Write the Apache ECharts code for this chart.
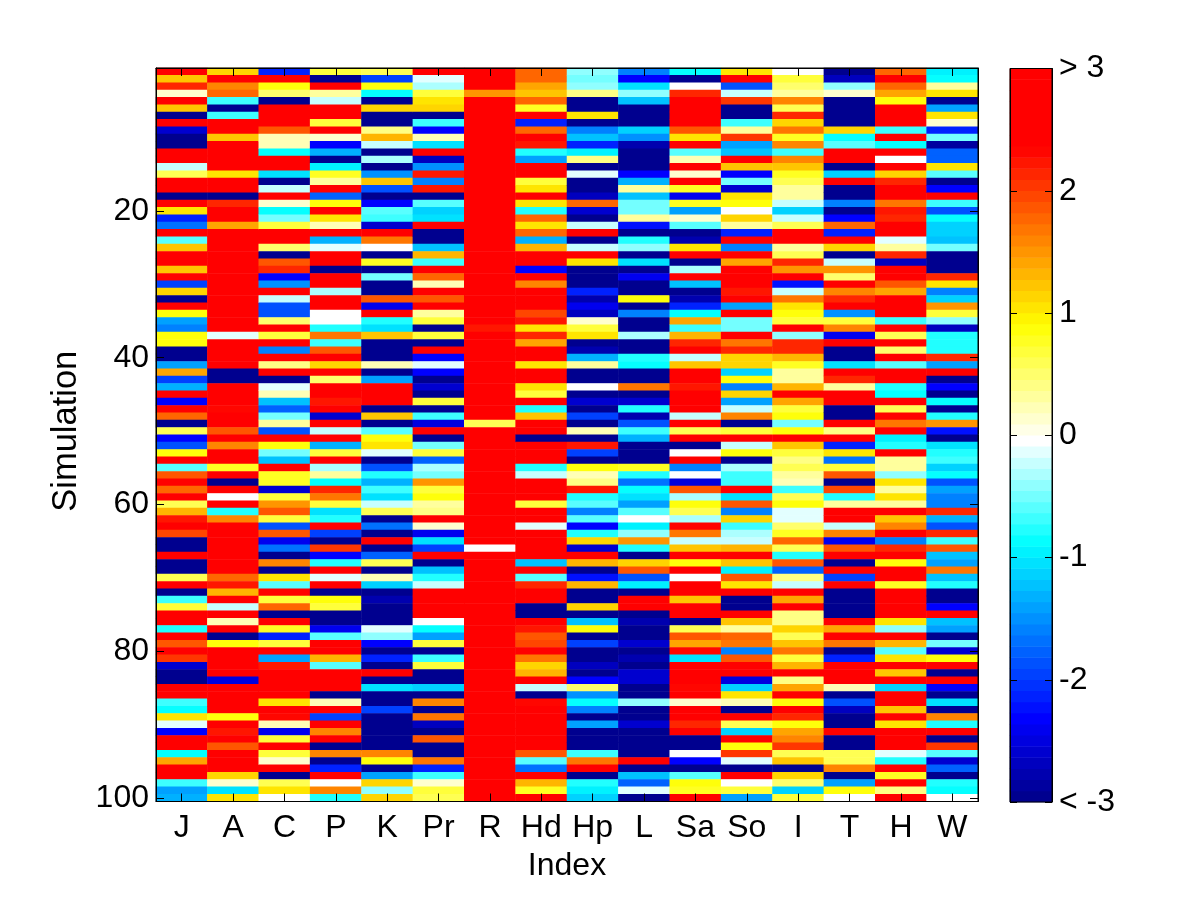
<!DOCTYPE html>
<html>
<head>
<meta charset="utf-8">
<style>html,body{margin:0;padding:0;background:#fff}#c{width:1200px;height:900px}</style>
<script src="https://cdn.jsdelivr.net/npm/echarts@6/dist/echarts.min.js"></script>
</head>
<body>
<div id="c"></div>
<script>
const indexLabels = ['J','A','C','P','K','Pr','R','Hd','Hp','L','Sa','So','I','T','H','W'];
const simTickValues = [20,40,60,80,100];
const barTickLabels = {'3':'> 3','2':'2','1':'1','0':'0','-1':'-1','-2':'-2','-3':'< -3'};

const J = [3,1.2,2.1,.15,3,1.2,-3,3,-2.6,-3,-3,3,3,-.2,.6,3,3,-3,3,1,-2.1,-1.7,3,-.6,1.2,
3,3,1.25,3,-2,1.1,-3,3,.85,-1.45,-1.6,.9,.9,-3,-3,-1.45,1.4,-2,-1.35,3,-2.35,3,1.8,-3,.55,
-2.35,-1.9,.85,3,-.55,1.9,3,1.75,3,.6,1.3,2.2,3,1.95,-3,-3,3,-3,-3,.6,3,-3,-.7,.7,3,
3,-.8,3,1.9,3,2,-2.55,-3,-3,3,3,-.7,-.9,1,-.15,-2.3,3,3,-.9,1.4,3,3,-.65,-1.45,-1.35];
const A = [1.15,3,1.6,1.8,-.7,-3,-.7,3,3,1.25,3,3,3,3,1,3,3,-3,2.1,3,3,1.4,3,3,3,
3,3,3,3,3,3,3,3,3,3,3,-.15,3,3,3,3,-3,-3,3,3,3,2.3,3,3,1.9,
3,1.6,3,3,.8,3,-3,3,-.04,3,-.8,1.55,3,3,3,3,3,3,3,1.75,2.2,1.35,3,-.25,3,
.2,3,-3,.85,3,3,3,3,-2.5,3,3,3,3,.85,3,2.25,3,1.9,3,3,3,1.15,.15,-1,1];
const C = [-2.1,3,.85,.5,-3,3,3,3,1.9,.2,.2,-.9,3,3,-1.05,-3,-.2,3,.1,-.9,-.5,.7,3,3,.5,
-3,1.9,2.1,-2.35,-1.5,3,-.2,-1.9,-1.9,.5,3,.7,3,-1.6,3,.4,3,-3,-.15,.2,-1.25,-1.8,-.5,.3,-1.9,
3,.85,-.5,-1.25,3,.8,.8,-2.6,.7,1.5,1.9,.65,-1.9,1.85,-2.4,-1.7,-3,1.55,-3,1.05,-.55,3,.7,1.75,-3,
3,.8,-2.1,.65,3,-1.45,2.25,3,3,3,3,1.05,3,2.3,.2,-2.4,.65,3,.7,.1,3,-3,.55,1.05,-.04];
const P = [.65,-3,3,.35,-.2,3,3,.65,3,.1,-2.3,-1.35,-3,-.95,.8,.35,3,-1.8,.9,3,1.05,.2,3,-1.35,-.1,
3,3,-3,3,3,-.35,3,3,-.04,-.04,-.75,1.7,-.7,1.9,3,1.1,3,.5,3,3,2.25,3,-2.6,3,-.25,
3,-1.35,.65,3,-.35,.35,-.9,2.1,1.7,.7,-1.05,-.75,3,-2,-3,2.05,-2.35,-.75,3,-.15,3,-3,.9,.7,-3,
-3,-2.4,-.6,3,3,1.35,-.55,3,3,3,-3,.2,3,-2,3,1.6,3,-3,1.6,-3,-2.1,3,-.04,1.6,-.75];
const K = [.55,-2,.85,-.9,-3,1.15,-3,-3,.4,1.3,-.25,-3,-.3,-3,-1.5,1.2,-1.9,-3,-2.35,-.6,-.65,-2.6,3,1.65,-.04,
-3,.8,-3,-.5,-3,-3,1.9,-2.45,3,-.75,-1.05,1.25,-3,-3,-3,.2,-3,-1.45,3,3,3,-3,1.25,-3,-.6,
.9,1.05,-.1,-3,-1.9,-.75,-1.35,-.7,-1.05,-.25,.55,-3,-1.7,-3,3,-3,-1.8,.55,-3,.2,-1.15,-3,-2.8,-3,-3,
-3,-.1,-.4,-2.3,-3,-2.1,-3,3,-3,-1.05,-3,-3,-2,-3,-3,-3,-3,-3,1.6,.85,-3,-1.4,1.1,-.4,1.15];
const Pr = [3,-.15,-.35,.7,1.05,1.15,-3,-.65,-2.35,.2,-1,3,-2.7,-1.5,2.2,-1.6,2.2,-3,-.6,-1.15,-1,3,-3,-3,-1.25,
1.3,-.7,3,1.8,.2,3,1.9,3,.35,.65,-3,.7,-3,3,-2.35,-.15,-2.3,-3,-2.6,-3,.7,-3,-.7,-2.5,3,
-3,-.5,.7,-1.8,-.35,-.5,1.5,.7,.85,.35,.4,3,.1,-2.4,-1.05,-2,3,-3,-1.25,-.8,-.25,3,3,3,3,
-.04,-.85,-1.45,.7,-3,-.7,.65,-3,-3,-1.15,-3,1.6,-3,1.7,-2.65,-3,1.9,-3,-3,1.7,-2.1,-.7,.15,.7,.55];
const R = [3,3,3,1.5,3,3,3,3,3,3,3,3,3,3,3,3,3,3,3,3,3,3,3,3,3,
3,3,3,3,3,3,3,3,3,3,2.2,3,3,3,3,3,3,3,3,3,3,3,3,.55,3,
3,3,3,3,3,3,3,3,3,3,3,3,3,3,3,-.04,3,3,3,3,3,3,3,3,3,
3,3,3,3,3,3,3,3,3,3,3,3,3,3,3,3,3,3,3,3,3,3,3,3,3];
const Hd = [1.8,1.8,1.4,1.25,1.8,.8,3,-2.1,1.8,3,2.2,-.8,-1.45,3,3,.65,1,3,1.05,-.8,1.75,1,1.75,-1.35,1.3,
3,3,-2.35,3,1.55,3,3,3,1.95,2.2,1.05,2.1,1.45,3,3,1.05,3,3,1,.7,3,-.8,1.2,3,3,
-3,3,3,3,-.8,-.25,3,3,3,.7,3,3,-.15,3,3,3,3,-1.25,3,-.55,2.1,3,3,-3,-3,
3,2.25,1.9,1.95,3,1.65,1.15,1.3,3,-.25,-3,2.3,3,3,3,3,3,3,1.9,-.55,-1.65,3,1.35,.8,3];
const Hp = [-.4,-.5,-.4,.4,-3,-3,1.05,-3,-1.55,-1.25,-2.1,-.95,.4,-3,-.15,-3,-3,-2.7,1.8,-2.55,-3,-.25,3,-3,-.25,
3,1.05,-3,-3,-3,-2.1,-2.75,-2.45,-2.7,.1,.7,1.05,-3,-2.75,-1.35,.35,-3,-3,-.04,-3,-2.6,-3,-2,-3,.2,
-3,2.2,-2,-3,.85,.2,.4,2.2,-.8,-.6,-1.55,-.55,-2.35,-.75,1.15,-2.6,3,1.35,-3,-2.2,1.3,-3,-3,1.1,-3,
-1.2,.85,-3,-2,-3,-3,-2.7,-3,-2.3,.5,-1.5,-.9,-1.6,-3,-1.45,-3,-3,-3,-.7,1.65,3,-3,-.8,-.95,-1.15];
const L = [-1.6,-2.3,-1.05,-.4,-1.25,-3,-3,-3,-1.15,-1.5,-2.8,-3,-3,-3,-2.35,-1.35,.3,-1.25,-.5,-.5,.35,-2.2,-3,-.75,-.4,
-3,-1.05,-3,-2.45,-3,-3,.85,-3,-1.6,-3,-3,-.35,-3,-3,-.75,-.9,-3,-3,1.7,-3,-2.6,-.8,-2.75,-1.9,-.7,
-1.3,-3,-3,-3,.8,-.8,-1.7,-.9,-1.05,-1.45,-.55,-.04,-.95,-.4,1.5,-.8,-3,1.1,1.9,-1.9,-.95,-3,3,3,-3,
-2.8,-3,-3,-2.55,-3,-2.75,-3,-2.55,-2.55,-3,-3,-.4,-3,-3,-2.6,-3,-3,-3,-3,3,-3,-1.2,-1.8,-.15,-3];
const Sa = [-.9,-3,-.04,2.1,3,3,3,3,1.9,1,3,-.55,.2,3,.1,3,.8,-2.45,.8,-1.45,.15,-.6,-3,-2.8,1,
3,-3,-.35,3,-1.25,-3,-2.8,-2.1,-.9,1.4,-.7,1.35,2.1,3,-.2,1.2,3,3,2.2,3,3,3,-.25,3,.55,
3,-3,-.04,3,-1.55,-.04,-2.5,1.9,-.35,.85,.6,-.35,3,1.7,-.25,1.25,3,.9,3,-.04,3,3,1.2,3,3,
-3,.55,1.9,1.4,2.3,-1.05,3,3,3,2.3,3,.1,3,3,2.1,3,-3,-3,-.04,-2.3,-3,-.55,.9,.8,3];
const So = [1,3,-1.9,-.25,2,-3,-3,-.7,.35,2,-1.45,-1.2,3,1.2,-2.35,-.5,-2.6,1,.85,-.04,1.1,.35,-2.1,3,-1.6,
3,1.4,3,3,3,2.2,3,-1.45,3,-.5,-.5,3,1.65,2.1,1.15,1.15,-1.15,.85,-1.55,1.1,-1.45,-.2,1.55,-3,.65,
3,-.2,.85,-3,-.35,-.7,-.65,3,-1.05,1.9,-1.6,1.1,-.7,-.35,-.25,1.35,3,1.2,-.95,1.85,1,3,-3,-3,3,
1.25,.35,1.8,1.65,-1.55,1.85,3,3,-2.5,-1.15,1.05,.2,-3,3,.55,-1.15,3,.9,2,-.15,-3,3,-.04,.7,-1.45];
const I = [-.04,.65,.5,.35,1.6,.55,2.1,1.15,1.65,.8,1.6,-.65,1.6,1.2,.8,.6,.35,.35,-.25,-1.15,-.2,.55,3,3,.35,
.6,2.1,1.5,3,-2.2,-.25,1.7,1.05,.9,.65,3,-.4,2.1,2.1,1.35,.8,.35,.35,1.35,3,1.4,.7,.9,-.5,.9,
3,1.25,.7,.4,.55,.35,.2,-.7,.6,.85,-.15,-.15,.5,.8,1.8,.55,-.8,1.9,-1.75,.4,-.2,3,1.4,3,.4,
.4,1.1,.55,1.25,1.7,.65,1.35,3,.4,1.4,3,.9,3,2.1,.85,1.4,1.6,2,.55,1.25,-3,1.15,.5,-1.15,.7];
const T = [-3,-2.7,-.4,.1,-3,-3,-3,-3,1.1,-.9,-.55,3,3,-3,-1.15,3,-3,-3,-1.6,-3,-2.35,1.8,-2.1,3,1.1,
-3,-.25,1.5,.5,3,1.6,2.1,3,-1.5,.65,1.55,-2.45,3,-3,-3,-1.05,3,2.1,.35,3,3,-3,-3,3,.4,
3,-2.1,1.05,-1.65,.65,1.9,-3,1.95,-.75,.35,3,3,-.2,1.6,-2.4,1.9,3,-3,3,-2,3,-3,-3,-3,-3,
3,1.45,3,1.65,-3,-2.1,3,3,3,.2,-3,-1.9,-2.7,-3,-3,3,-3,-3,.55,.55,1.55,-3,-1.4,.9,-.04];
const H = [1.8,3,1.8,1.4,.85,3,3,3,-.7,3,-.9,3,-.04,3,1.1,2.1,3,3,1.7,2.2,2.1,3,3,-.15,.35,
2.15,-2.7,3,3,1.9,1.4,3,3,3,-.7,3,.55,3,.5,3,-.55,3,3,-.8,-.9,3,.6,3,1.7,3,
-.95,-.75,3,.3,.3,-.4,1.05,.35,1.05,.3,3,1.2,1.6,3,-1.6,2.1,3,.85,3,3,.8,3,3,3,3,
1,-.4,3,1.3,-.6,1.05,3,1.25,3,-1.15,3,3,1.2,3,1,3,3,3,-.15,-.75,3,.8,3,.4,3];
const W = [-.95,-.85,.35,1.05,-3,-1.45,1.05,.1,-2.1,-.5,-2.9,-1.8,-1.8,1.05,-.6,-3,-2.35,3,-.7,-1.9,-.85,-1.15,-1.15,-1.25,-.5,
-3,-3,-3,2.1,1,-1.55,-1.15,1.5,.65,-.4,-2.7,-.8,-.8,-.8,2.1,-1.4,3,-3,-2.3,-3,-.9,-3,-.75,1.5,-2.2,
-3,-1,-.75,-.7,-1.15,-.85,-1.9,-1.4,-1.55,-1.55,2.15,-1.3,-1.9,2.1,-.7,1.9,-1.2,-1.4,1.65,-1.25,-.8,-3,-3,-2.35,3,
-1.25,-1.4,-3,-.5,-2.6,.85,3,-3,3,-2.35,-3,-1.05,-3,1.6,-.75,3,-3,2,-.6,-2.6,-1.8,-3,-.75,-.9,-.04];

const columns = [J,A,C,P,K,Pr,R,Hd,Hp,L,Sa,So,I,T,H,W];

// Colour map: anchor values and the RGB at each anchor, quantised to 66 levels.
const colorAnchors = [-3,-2.32,-0.88,-0.045,0.9,2.35,3];
const colorAnchorRGB = [[0,0,135],[0,0,255],[0,255,255],[255,255,255],[255,255,0],[255,0,0],[255,0,0]];
const levelCount = 66;

function colorAt(v){
  let i = 0;
  while(i < colorAnchors.length-2 && v > colorAnchors[i+1]) i++;
  const t = Math.max(0, Math.min(1, (v-colorAnchors[i])/(colorAnchors[i+1]-colorAnchors[i])));
  const a = colorAnchorRGB[i], b = colorAnchorRGB[i+1];
  return 'rgb('+a.map((c,k)=>Math.round(c+(b[k]-c)*t)).join(',')+')';
}
const step = 6/levelCount;
const pieces = [], levelData = [], levelNames = [];
for(let i=0;i<levelCount;i++){
  const lo = -3+i*step, hi = lo+step, mid = lo+step/2;
  const p = {color: colorAt(mid), gte: i===0 ? -10 : lo};
  if(i===levelCount-1) p.lte = 10; else p.lt = hi;
  pieces.push(p);
  levelData.push([0,i,mid]);
  levelNames.push(String(i));
}

const simCategories = [];
for(let i=1;i<=100;i++) simCategories.push(String(i));
const cellData = [];
columns.forEach((col,x)=>col.forEach((v,y)=>cellData.push([x,y,v])));

const FONT = '"Liberation Sans", Arial, sans-serif';
const FS = 32;
const isSimTick = (idx)=> simTickValues.indexOf(idx+1) >= 0;
const black = {color:'#000',width:1};

const chart = echarts.init(document.getElementById('c'),null,{renderer:'canvas'});
chart.setOption({
  backgroundColor:'#fff',
  animation:false,
  grid:[
    {left:156,top:68,width:822,height:733.5,show:true,borderColor:'#000',borderWidth:1,backgroundColor:'transparent',z:5},
    {left:1010,top:68.5,width:42,height:733.5,show:true,borderColor:'#000',borderWidth:1,backgroundColor:'transparent',z:5}
  ],
  xAxis:[
    {type:'category',gridIndex:0,data:indexLabels,position:'bottom',name:'Index',nameLocation:'middle',nameGap:49,
     nameTextStyle:{fontFamily:FONT,fontSize:FS,color:'#000'},
     axisLine:{show:true,lineStyle:black},
     axisTick:{show:true,inside:true,length:8,alignWithLabel:true,interval:0,lineStyle:black},
     axisLabel:{fontFamily:FONT,fontSize:FS,color:'#000',margin:11,interval:0},splitLine:{show:false},z:10},
    {type:'category',gridIndex:0,data:indexLabels,position:'top',
     axisLine:{show:true,lineStyle:black},
     axisTick:{show:true,inside:true,length:8,alignWithLabel:true,interval:0,lineStyle:black},
     axisLabel:{show:false},splitLine:{show:false},z:10},
    {type:'category',gridIndex:1,data:['bar'],show:false}
  ],
  yAxis:[
    {type:'category',gridIndex:0,data:simCategories,inverse:true,position:'left',name:'Simulation',nameLocation:'middle',nameGap:72,
     nameTextStyle:{fontFamily:FONT,fontSize:34.5,color:'#000',padding:[0,0,0,7]},
     axisLine:{show:true,lineStyle:black},
     axisTick:{show:true,inside:true,length:8,alignWithLabel:true,interval:(i)=>isSimTick(i),lineStyle:black},
     axisLabel:{fontFamily:FONT,fontSize:FS,color:'#000',margin:7,interval:(i)=>isSimTick(i)},splitLine:{show:false},z:10},
    {type:'category',gridIndex:0,data:simCategories,inverse:true,position:'right',
     axisLine:{show:true,lineStyle:black},
     axisTick:{show:true,inside:true,length:8,alignWithLabel:true,interval:(i)=>isSimTick(i),lineStyle:black},
     axisLabel:{show:false},splitLine:{show:false},z:10},
    {type:'category',gridIndex:1,data:levelNames,show:false},
    {type:'value',gridIndex:1,min:-3,max:3,interval:1,position:'right',
     axisLine:{show:true,lineStyle:black},
     axisTick:{show:true,inside:true,length:7,lineStyle:black},
     axisLabel:{fontFamily:FONT,fontSize:FS,color:'#000',margin:7,padding:[4,0,0,0],showMinLabel:true,showMaxLabel:true,hideOverlap:false,
       formatter:(v)=>barTickLabels[String(v)]},
     splitLine:{show:false},z:10},
    {type:'value',gridIndex:1,min:-3,max:3,interval:1,position:'left',
     axisLine:{show:true,lineStyle:black},
     axisTick:{show:true,inside:true,length:7,lineStyle:black},
     axisLabel:{show:false},splitLine:{show:false},z:10}
  ],
  visualMap:[{type:'piecewise',show:false,dimension:2,seriesIndex:[0,1],pieces:pieces}],
  series:[
    {type:'heatmap',xAxisIndex:0,yAxisIndex:0,data:cellData,progressive:0,silent:true,itemStyle:{borderWidth:0}},
    {type:'heatmap',xAxisIndex:2,yAxisIndex:2,data:levelData,progressive:0,silent:true,itemStyle:{borderWidth:0}}
  ]
});
</script>
</body>
</html>
